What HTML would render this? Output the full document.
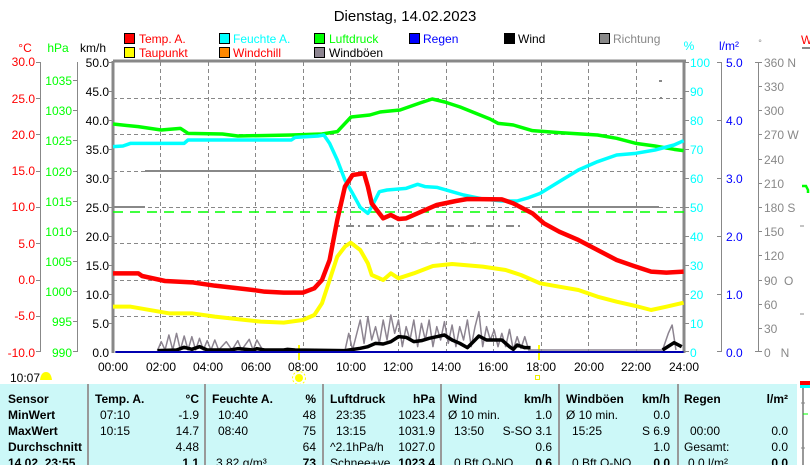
<!DOCTYPE html>
<html><head><meta charset="utf-8"><style>
html,body{margin:0;padding:0;background:#fff;width:810px;height:465px;overflow:hidden}
svg{display:block;font-family:"Liberation Sans",sans-serif}
</style></head><body>
<svg width="810" height="465" viewBox="0 0 810 465" xmlns="http://www.w3.org/2000/svg">
<rect width="810" height="465" fill="#fff"/>
<text x="405" y="21" font-size="15" text-anchor="middle">Dienstag, 14.02.2023</text>
<!-- legend -->
<g font-size="12">
<rect x="124.5" y="33.5" width="10" height="10" fill="#f00" stroke="#000"/><text x="139" y="43" fill="#f00">Temp. A.</text>
<rect x="124.5" y="47.5" width="10" height="10" fill="#ff0" stroke="#000"/><text x="139" y="57" fill="#f00">Taupunkt</text>
<rect x="219.5" y="33.5" width="10" height="10" fill="#0ff" stroke="#000"/><text x="233" y="43" fill="#0ff">Feuchte A.</text>
<rect x="219.5" y="47.5" width="10" height="10" fill="#f80" stroke="#000"/><text x="233" y="57" fill="#f00">Windchill</text>
<rect x="314.5" y="33.5" width="10" height="10" fill="#0f0" stroke="#000"/><text x="329" y="43" fill="#0f0">Luftdruck</text>
<rect x="314.5" y="47.5" width="10" height="10" fill="#8c8490" stroke="#000"/><text x="329" y="57">Windböen</text>
<rect x="409.5" y="33.5" width="10" height="10" fill="#00f" stroke="#000"/><text x="423" y="43" fill="#00f">Regen</text>
<rect x="504.5" y="33.5" width="10" height="10" fill="#000" stroke="#000"/><text x="518" y="43">Wind</text>
<rect x="599.5" y="33.5" width="10" height="10" fill="#888" stroke="#000"/><text x="613" y="43" fill="#888">Richtung</text>
</g>
<!-- axis headers -->
<g font-size="12">
<text x="25" y="52" fill="#f00" text-anchor="middle">°C</text>
<text x="58" y="52" fill="#0f0" text-anchor="middle">hPa</text>
<text x="93" y="52" text-anchor="middle">km/h</text>
<text x="689" y="50" fill="#0ff" text-anchor="middle">%</text>
<text x="729" y="50" fill="#00f" text-anchor="middle">l/m²</text>
<text x="760" y="46" fill="#888" font-size="9" text-anchor="middle">°</text>
<text x="801" y="44" fill="#f00">W</text>
<line x1="802" y1="48" x2="810" y2="48" stroke="#888" stroke-width="2"/>
</g>
<!-- grid -->
<g stroke="#888" stroke-dasharray="4,3" stroke-width="1">
<line x1="160.5" y1="62" x2="160.5" y2="352"/><line x1="208.5" y1="62" x2="208.5" y2="352"/><line x1="255.5" y1="62" x2="255.5" y2="352"/><line x1="303.5" y1="62" x2="303.5" y2="352"/><line x1="350.5" y1="62" x2="350.5" y2="352"/><line x1="398.5" y1="62" x2="398.5" y2="352"/><line x1="446.5" y1="62" x2="446.5" y2="352"/><line x1="493.5" y1="62" x2="493.5" y2="352"/><line x1="541.5" y1="62" x2="541.5" y2="352"/><line x1="588.5" y1="62" x2="588.5" y2="352"/><line x1="636.5" y1="62" x2="636.5" y2="352"/>
<line x1="113" y1="98.5" x2="684" y2="98.5"/><line x1="113" y1="134.5" x2="684" y2="134.5"/><line x1="113" y1="171.5" x2="684" y2="171.5"/><line x1="113" y1="207.5" x2="684" y2="207.5"/><line x1="113" y1="243.5" x2="684" y2="243.5"/><line x1="113" y1="280.5" x2="684" y2="280.5"/><line x1="113" y1="316.5" x2="684" y2="316.5"/>
</g>
<!-- frame -->
<line x1="113" y1="61" x2="686" y2="61" stroke="#888" stroke-width="3"/>
<line x1="113" y1="61" x2="113" y2="353" stroke="#888" stroke-width="3"/>
<line x1="684" y1="61" x2="684" y2="353" stroke="#888" stroke-width="3"/>
<!-- left axes -->
<g stroke="#888" stroke-width="1">
<line x1="40.5" y1="62" x2="40.5" y2="352"/><line x1="77.5" y1="62" x2="77.5" y2="352"/>
<line x1="721.5" y1="62" x2="721.5" y2="352"/><line x1="758.5" y1="62" x2="758.5" y2="352"/>
</g>
<g font-size="12" fill="#f00" text-anchor="end">
<text x="35" y="66">30.0</text><text x="35" y="103">25.0</text><text x="35" y="139">20.0</text><text x="35" y="175">15.0</text><text x="35" y="211">10.0</text><text x="35" y="248">5.0</text><text x="35" y="284">0.0</text><text x="35" y="320">-5.0</text><text x="35" y="357">-10.0</text>
</g>
<g stroke="#888"><line x1="36" y1="62.5" x2="41" y2="62.5"/><line x1="36" y1="98.5" x2="41" y2="98.5"/><line x1="36" y1="134.5" x2="41" y2="134.5"/><line x1="36" y1="171.5" x2="41" y2="171.5"/><line x1="36" y1="207.5" x2="41" y2="207.5"/><line x1="36" y1="243.5" x2="41" y2="243.5"/><line x1="36" y1="280.5" x2="41" y2="280.5"/><line x1="36" y1="316.5" x2="41" y2="316.5"/><line x1="36" y1="351.5" x2="41" y2="351.5"/>
<line x1="73" y1="80.5" x2="78" y2="80.5"/><line x1="73" y1="110.5" x2="78" y2="110.5"/><line x1="73" y1="140.5" x2="78" y2="140.5"/><line x1="73" y1="171.5" x2="78" y2="171.5"/><line x1="73" y1="201.5" x2="78" y2="201.5"/><line x1="73" y1="231.5" x2="78" y2="231.5"/><line x1="73" y1="261.5" x2="78" y2="261.5"/><line x1="73" y1="291.5" x2="78" y2="291.5"/><line x1="73" y1="321.5" x2="78" y2="321.5"/><line x1="73" y1="351.5" x2="78" y2="351.5"/>
<line x1="109" y1="62.5" x2="113" y2="62.5"/><line x1="109" y1="91.5" x2="113" y2="91.5"/><line x1="109" y1="120.5" x2="113" y2="120.5"/><line x1="109" y1="149.5" x2="113" y2="149.5"/><line x1="109" y1="178.5" x2="113" y2="178.5"/><line x1="109" y1="207.5" x2="113" y2="207.5"/><line x1="109" y1="236.5" x2="113" y2="236.5"/><line x1="109" y1="265.5" x2="113" y2="265.5"/><line x1="109" y1="294.5" x2="113" y2="294.5"/><line x1="109" y1="323.5" x2="113" y2="323.5"/></g>
<g font-size="12" fill="#0f0" text-anchor="end">
<text x="72" y="85">1035</text><text x="72" y="115">1030</text><text x="72" y="145">1025</text><text x="72" y="176">1020</text><text x="72" y="206">1015</text><text x="72" y="236">1010</text><text x="72" y="266">1005</text><text x="72" y="296">1000</text><text x="72" y="326">995</text><text x="72" y="357">990</text>
</g>
<g font-size="12" fill="#000" text-anchor="end">
<text x="109" y="67">50.0</text><text x="109" y="96">45.0</text><text x="109" y="125">40.0</text><text x="109" y="154">35.0</text><text x="109" y="183">30.0</text><text x="109" y="212">25.0</text><text x="109" y="241">20.0</text><text x="109" y="270">15.0</text><text x="109" y="299">10.0</text><text x="109" y="328">5.0</text><text x="109" y="357">0.0</text>
</g>
<!-- right axes -->
<g stroke="#888"><line x1="684" y1="62.5" x2="689" y2="62.5"/><line x1="684" y1="91.5" x2="689" y2="91.5"/><line x1="684" y1="120.5" x2="689" y2="120.5"/><line x1="684" y1="149.5" x2="689" y2="149.5"/><line x1="684" y1="178.5" x2="689" y2="178.5"/><line x1="684" y1="207.5" x2="689" y2="207.5"/><line x1="684" y1="236.5" x2="689" y2="236.5"/><line x1="684" y1="265.5" x2="689" y2="265.5"/><line x1="684" y1="294.5" x2="689" y2="294.5"/><line x1="684" y1="323.5" x2="689" y2="323.5"/><line x1="684" y1="351.5" x2="689" y2="351.5"/>
<line x1="717" y1="62.5" x2="722" y2="62.5"/><line x1="717" y1="120.5" x2="722" y2="120.5"/><line x1="717" y1="178.5" x2="722" y2="178.5"/><line x1="717" y1="236.5" x2="722" y2="236.5"/><line x1="717" y1="294.5" x2="722" y2="294.5"/><line x1="717" y1="351.5" x2="722" y2="351.5"/>
<line x1="755" y1="62.5" x2="762" y2="62.5"/><line x1="758" y1="86.5" x2="762" y2="86.5"/><line x1="758" y1="110.5" x2="762" y2="110.5"/><line x1="758" y1="134.5" x2="762" y2="134.5"/><line x1="758" y1="159.5" x2="762" y2="159.5"/><line x1="758" y1="183.5" x2="762" y2="183.5"/><line x1="758" y1="207.5" x2="762" y2="207.5"/><line x1="758" y1="231.5" x2="762" y2="231.5"/><line x1="758" y1="255.5" x2="762" y2="255.5"/><line x1="758" y1="280.5" x2="762" y2="280.5"/><line x1="758" y1="304.5" x2="762" y2="304.5"/><line x1="758" y1="328.5" x2="762" y2="328.5"/><line x1="755" y1="351.5" x2="762" y2="351.5"/></g>
<g font-size="12" fill="#0ff">
<text x="690" y="67">100</text><text x="690" y="96">90</text><text x="690" y="125">80</text><text x="690" y="154">70</text><text x="690" y="183">60</text><text x="690" y="212">50</text><text x="690" y="241">40</text><text x="690" y="270">30</text><text x="690" y="299">20</text><text x="690" y="328">10</text><text x="690" y="357">0</text>
</g>
<g font-size="12" fill="#00f">
<text x="726" y="67">5.0</text><text x="726" y="125">4.0</text><text x="726" y="183">3.0</text><text x="726" y="241">2.0</text><text x="726" y="299">1.0</text><text x="726" y="357">0.0</text>
</g>
<g font-size="12" fill="#888">
<text x="764" y="67">360 N</text><text x="764" y="91">330</text><text x="764" y="115">300</text><text x="764" y="139">270 W</text><text x="764" y="164">240</text><text x="764" y="188">210</text><text x="764" y="212">180 S</text><text x="764" y="236">150</text><text x="764" y="260">120</text><text x="764" y="285">90&#160;&#160;O</text><text x="764" y="309">60</text><text x="764" y="333">30</text><text x="764" y="357">0&#160;&#160;&#160;N</text>
</g>
<path d="M802 186 L806 186 L808 190 L808 193" stroke="#0f0" stroke-width="2.5" fill="none"/>
<line x1="800" y1="226" x2="804" y2="226" stroke="#888"/><line x1="800" y1="314" x2="804" y2="314" stroke="#888"/>
<!-- time labels -->
<g font-size="12" text-anchor="middle">
<text x="113" y="371">00:00</text><text x="161" y="371">02:00</text><text x="208" y="371">04:00</text><text x="256" y="371">06:00</text><text x="303" y="371">08:00</text><text x="351" y="371">10:00</text><text x="398" y="371">12:00</text><text x="446" y="371">14:00</text><text x="493" y="371">16:00</text><text x="541" y="371">18:00</text><text x="589" y="371">20:00</text><text x="636" y="371">22:00</text><text x="684" y="371">24:00</text>
</g>
<text x="10" y="382" font-size="12">10:07</text>
<path d="M40 380 Q41 372 46 372 Q51 372 52 380 Z" fill="#ff0"/>
<circle cx="299" cy="378" r="4" fill="#ff0"/><circle cx="299" cy="378" r="6.5" fill="none" stroke="#ff0" stroke-dasharray="2,2"/>
<rect x="535.5" y="375.5" width="4" height="4" fill="none" stroke="#ee0"/>
<line x1="299" y1="345" x2="299" y2="360" stroke="#ff0" stroke-width="2"/>
<line x1="539" y1="345" x2="539" y2="360" stroke="#ff0" stroke-width="2"/>
<!-- reference lines -->
<line x1="113" y1="212" x2="684" y2="212" stroke="#0f0" stroke-width="1.5" stroke-dasharray="10,7"/>
<line x1="145" y1="171" x2="331" y2="171" stroke="#888" stroke-width="2"/>
<line x1="114" y1="207" x2="145" y2="207" stroke="#888" stroke-width="2"/>
<line x1="532" y1="207" x2="659" y2="207" stroke="#888" stroke-width="2"/>
<line x1="338" y1="226" x2="520" y2="226" stroke="#888" stroke-width="2" stroke-dasharray="2,6,8,4"/>
<line x1="365" y1="243" x2="480" y2="243" stroke="#888" stroke-width="1.5" stroke-dasharray="3,9"/>
<rect x="659" y="80" width="3" height="2" fill="#888"/><rect x="660" y="97" width="2" height="2" fill="#888"/>
<!-- series in zoom coords -->
<g transform="translate(100,120) scale(0.38270,0.33333)" fill="none" stroke-linejoin="round">
<polyline vector-effect="non-scaling-stroke" stroke="#8c8490" stroke-width="1.5" points="150,692 160,665 170,690 180,645 190,690 200,640 210,690 220,648 230,690 240,650 250,690 260,655 270,690 280,662 290,690 300,660 310,690 330,665 345,690 360,662 370,690 390,658 400,690 410,660 425,690 640,692 650,640 660,690 680,600 690,670 700,590 710,660 720,620 730,670 740,600 750,660 760,585 770,640 780,600 790,680 800,620 810,660 820,600 830,680 840,610 850,660 860,600 870,680 880,620 890,660 900,605 910,670 920,615 930,680 940,620 950,660 960,600 970,680 980,620 990,575 1000,680 1010,620 1020,660 1030,630 1040,680 1050,640 1060,680 1070,628 1080,690 1090,650 1100,685 1110,650 1120,690 1470,690 1485,640 1495,615 1505,690"/>
<polyline vector-effect="non-scaling-stroke" stroke="#000" stroke-width="3.5" points="150,692 200,690 220,682 240,688 260,680 280,690 340,690 360,686 400,690 410,686 430,690 480,690 490,688 510,690 640,692 680,685 700,680 720,670 740,672 760,665 780,650 800,652 820,665 840,662 860,655 880,650 900,645 920,660 940,670 960,683 980,660 990,648 1010,660 1050,660 1070,680 1080,688 1090,675 1110,683 1125,683"/>
<polyline vector-effect="non-scaling-stroke" stroke="#000" stroke-width="3.5" points="1470,690 1500,668 1520,680"/>
<line vector-effect="non-scaling-stroke" x1="40" y1="696" x2="1525" y2="696" stroke="#0000b0" stroke-width="2"/>
<polyline vector-effect="non-scaling-stroke" stroke="#0f0" stroke-width="3.5" points="34,12 100,20 160,30 210,25 230,40 320,42 360,48 500,45 580,42 620,35 656,-9 705,-15 732,-24 784,-30 836,-51 868,-63 901,-54 941,-39 993,-15 1019,-3 1040,10 1080,15 1130,32 1200,38 1300,45 1350,55 1400,70 1450,78 1500,88 1525,92"/>
<polyline vector-effect="non-scaling-stroke" stroke="#0ff" stroke-width="3.5" points="34,80 60,78 80,70 220,70 230,60 500,60 510,52 570,48 585,45 600,70 620,120 640,180 660,220 680,262 700,280 710,260 730,215 750,210 800,205 830,193 850,200 880,202 920,215 950,225 1000,237 1050,243 1090,243 1120,233 1150,220 1200,185 1250,150 1300,125 1350,105 1400,100 1450,90 1500,75 1525,62"/>
<polyline vector-effect="non-scaling-stroke" stroke="#ff0" stroke-width="4" points="34,560 80,560 180,580 240,580 300,590 380,600 420,605 480,608 530,600 560,585 580,550 600,480 620,410 640,380 655,368 680,390 700,430 710,465 740,480 760,460 780,475 820,460 870,438 920,432 1000,440 1060,450 1100,465 1150,490 1200,500 1250,510 1300,530 1350,545 1400,558 1440,570 1480,560 1525,548"/>
<polyline vector-effect="non-scaling-stroke" stroke="#f00" stroke-width="4.5" points="34,460 100,460 110,468 170,483 240,487 300,497 400,510 430,515 480,518 530,518 560,505 580,480 600,420 620,300 640,200 660,165 690,160 700,200 710,250 740,295 760,285 780,297 800,295 850,270 880,255 930,243 960,237 1050,238 1080,250 1130,280 1160,310 1200,335 1250,360 1300,390 1350,420 1400,440 1440,455 1480,458 1525,455"/>
</g>
<!-- table -->
<rect x="0" y="384" width="797" height="81" fill="#ccf8f8"/>
<g stroke="#999" stroke-width="2"><line x1="88" y1="384" x2="88" y2="465"/><line x1="205" y1="384" x2="205" y2="465"/><line x1="323" y1="384" x2="323" y2="465"/><line x1="441" y1="384" x2="441" y2="465"/><line x1="559" y1="384" x2="559" y2="465"/><line x1="678" y1="384" x2="678" y2="465"/><line x1="803" y1="384" x2="803" y2="465"/></g>
<rect x="800" y="381" width="10" height="4" fill="#f00"/><rect x="800" y="385" width="10" height="3" fill="#0ff"/>
<line x1="801" y1="403" x2="805" y2="403" stroke="#888"/><line x1="803" y1="414" x2="808" y2="414" stroke="#0f0"/><line x1="801" y1="448" x2="805" y2="448" stroke="#888"/>
<g font-size="12">
<g font-weight="bold"><text x="8" y="403">Sensor</text><text x="8" y="419">MinWert</text><text x="8" y="435">MaxWert</text><text x="8" y="451">Durchschnitt</text><text x="8" y="467">14.02. 23:55</text>
<text x="95" y="403">Temp. A.</text><text x="212" y="403">Feuchte A.</text><text x="330" y="403">Luftdruck</text><text x="448" y="403">Wind</text><text x="566" y="403">Windböen</text><text x="684" y="403">Regen</text></g>
<g font-weight="bold" text-anchor="end"><text x="199" y="403">°C</text><text x="316" y="403">%</text><text x="435" y="403">hPa</text><text x="552" y="403">km/h</text><text x="670" y="403">km/h</text><text x="788" y="403">l/m²</text>
<text x="199" y="467">1.1</text><text x="316" y="467">73</text><text x="435" y="467">1023.4</text><text x="552" y="467">0.6</text><text x="670" y="467">0.0</text><text x="788" y="467">0.0</text></g>
<text x="100" y="419">07:10</text><text x="100" y="435">10:15</text>
<text x="218" y="419">10:40</text><text x="218" y="435">08:40</text><text x="216" y="467">3.82 g/m³</text>
<text x="336" y="419">23:35</text><text x="336" y="435">13:15</text><text x="330" y="451">^2.1hPa/h</text><text x="330" y="467">Schnee+ve</text>
<text x="448" y="419">Ø 10 min.</text><text x="454" y="435">13:50</text><text x="454" y="467">0 Bft O-NO</text>
<text x="566" y="419">Ø 10 min.</text><text x="572" y="435">15:25</text><text x="572" y="467">0 Bft O-NO</text>
<text x="690" y="435">00:00</text><text x="684" y="451">Gesamt:</text><text x="688" y="467">0.0 l/m²</text>
<g text-anchor="end"><text x="199" y="419">-1.9</text><text x="199" y="435">14.7</text><text x="199" y="451">4.48</text>
<text x="316" y="419">48</text><text x="316" y="435">75</text><text x="316" y="451">64</text>
<text x="435" y="419">1023.4</text><text x="435" y="435">1031.9</text><text x="435" y="451">1027.0</text>
<text x="552" y="419">1.0</text><text x="552" y="435">S-SO 3.1</text><text x="552" y="451">0.6</text>
<text x="670" y="419">0.0</text><text x="670" y="435">S 6.9</text><text x="670" y="451">1.0</text>
<text x="788" y="435">0.0</text><text x="788" y="451">0.0</text></g>
</g>
</svg>
</body></html>
